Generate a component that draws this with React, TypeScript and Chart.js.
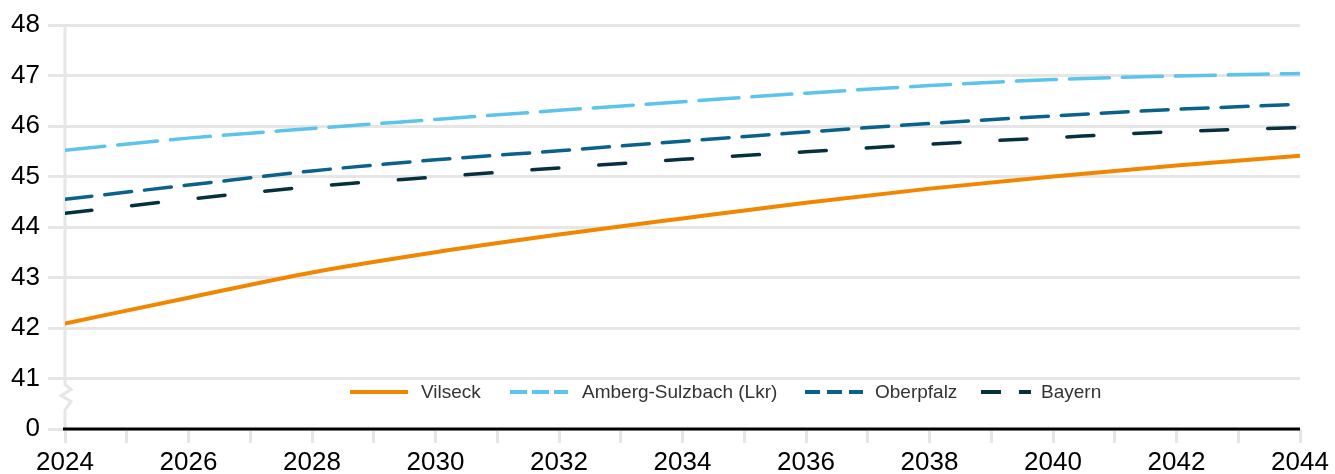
import React, { useEffect, useRef } from "react";
import { Chart, registerables } from "chart.js";

Chart.register(...registerables);

const years = [2024, 2026, 2028, 2030, 2032, 2034, 2036, 2038, 2040, 2042, 2044];
const vilseck = [42.09, 42.6, 43.1, 43.5, 43.85, 44.17, 44.48, 44.76, 45.0, 45.22, 45.41];
const amberg = [45.52, 45.76, 45.95, 46.13, 46.31, 46.48, 46.65, 46.8, 46.92, 46.99, 47.04];
const oberpfalz = [44.55, 44.83, 45.11, 45.33, 45.51, 45.7, 45.88, 46.05, 46.2, 46.33, 46.43];
const bayern = [44.27, 44.55, 44.8, 44.99, 45.17, 45.34, 45.49, 45.64, 45.77, 45.89, 45.97];
const seriesNames = ["Vilseck", "Amberg-Sulzbach (Lkr)", "Oberpfalz", "Bayern"];
const yMin = 40;
const yMax = 48;
const xMin = 2024;
const xMax = 2044;

const colors = ["#F18700", "#5CC4EA", "#0A6189", "#07303F"];
const dashes: number[][] = [[], [40, 13], [27, 13], [27, 40]];
const GRID = "#e6e6e6";
const FONT = "'Liberation Sans', Arial, sans-serif";

const axisPlugin = {
  id: "axisDecor",
  beforeDatasetsDraw(chart: any) {
    const { ctx, chartArea } = chart;
    const yScale = chart.scales.y;
    const x0 = chartArea.left;
    const yTop = chartArea.top;
    const yBottom = chartArea.bottom;
    const y41 = yScale.getPixelForValue(41);
    const zzTop = y41 + 6;
    const zzBot = yBottom - 19;
    ctx.save();
    ctx.strokeStyle = GRID;
    ctx.lineWidth = 3;
    ctx.lineJoin = "miter";
    ctx.beginPath();
    ctx.moveTo(x0, yTop);
    ctx.lineTo(x0, zzTop);
    ctx.lineTo(x0 + 6, zzTop + 5);
    ctx.lineTo(x0 - 4, zzTop + 11);
    ctx.lineTo(x0 + 6, zzTop + 17);
    ctx.lineTo(x0, zzBot);
    ctx.lineTo(x0, yBottom);
    ctx.stroke();
    ctx.strokeStyle = "#000";
    ctx.lineWidth = 3;
    ctx.beginPath();
    ctx.moveTo(x0 - 2, yBottom);
    ctx.lineTo(chartArea.right, yBottom);
    ctx.stroke();
    ctx.restore();
  },
};

const legendLeft = [350, 510, 805, 981];
const legendTextLeft = [421, 582, 875, 1041];

function LegendSample({ i }: { i: number }) {
  const w = i === 3 ? 50 : 58;
  const dash = i === 0 ? undefined : i === 1 ? "17 5" : i === 2 ? "15 7" : "20 18";
  return (
    <svg width={w} height={8} style={{ position: "absolute", left: legendLeft[i], top: 388 }}>
      <line x1={0} y1={4} x2={w} y2={4} stroke={colors[i]} strokeWidth={4} strokeDasharray={dash} />
    </svg>
  );
}

export default function App() {
  const canvasRef = useRef<HTMLCanvasElement | null>(null);

  useEffect(() => {
    document.body.style.margin = "0";
    const canvas = canvasRef.current;
    if (!canvas) return;
    const allData = [vilseck, amberg, oberpfalz, bayern];
    const chart = new Chart(canvas, {
      type: "line",
      data: {
        datasets: allData.map((arr, i) => ({
          label: seriesNames[i],
          data: years.map((yr, k) => ({ x: yr, y: arr[k] })),
          borderColor: colors[i],
          backgroundColor: colors[i],
          borderWidth: i === 0 ? 4 : 3.5,
          borderDash: dashes[i],
          borderCapStyle: i === 0 ? "butt" : "round",
          pointRadius: 0,
          cubicInterpolationMode: "monotone",
          fill: false,
          order: 4 - i,
        })),
      },
      options: {
        animation: false,
        responsive: false,
        devicePixelRatio: 1,
        layout: { padding: { top: 25, right: 35, left: 0, bottom: 0 } },
        plugins: { legend: { display: false }, tooltip: { enabled: false } },
        scales: {
          x: {
            type: "linear",
            min: xMin,
            max: xMax,
            afterFit(scale: any) {
              scale.height = 45;
            },
            ticks: {
              stepSize: 1,
              autoSkip: false,
              maxRotation: 0,
              padding: 4,
              color: "#000",
              font: { family: FONT, size: 26 },
              callback: (v: any) => (Number(v) % 2 === 0 ? String(v) : ""),
            },
            grid: { drawOnChartArea: false, drawTicks: true, tickLength: 14, color: GRID, lineWidth: 3 },
            border: { display: false },
          },
          y: {
            type: "linear",
            min: yMin,
            max: yMax,
            afterFit(scale: any) {
              scale.width = 65;
            },
            ticks: {
              stepSize: 1,
              padding: 8,
              color: "#000",
              font: { family: FONT, size: 26 },
              callback: (v: any) => (Number(v) === yMin ? "0" : String(v)),
            },
            grid: { color: GRID, lineWidth: 3, tickLength: 17, drawTicks: true },
            border: { display: false },
          },
        },
      },
      plugins: [axisPlugin],
    } as any);
    return () => chart.destroy();
  }, []);

  return (
    <div style={{ position: "relative", width: 1335, height: 474, background: "#fff" }}>
      <canvas ref={canvasRef} width={1335} height={474} style={{ display: "block" }} />
      {seriesNames.map((n, i) => (
        <React.Fragment key={n}>
          <LegendSample i={i} />
          <span
            style={{
              position: "absolute",
              left: legendTextLeft[i],
              top: 380,
              fontFamily: FONT,
              fontSize: 19,
              lineHeight: "24px",
              color: "#333",
              whiteSpace: "nowrap",
            }}
          >
            {n}
          </span>
        </React.Fragment>
      ))}
    </div>
  );
}
